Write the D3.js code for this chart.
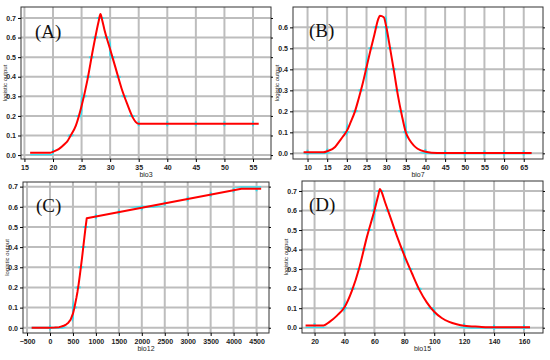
<!DOCTYPE html>
<html>
<head>
<meta charset="utf-8">
<script src="https://cdn.jsdelivr.net/npm/d3@7"></script>
<style>
  body { margin: 0; background: #fff; }
  svg { display: block; }
  .tick text { font-family: "Liberation Sans", Arial, sans-serif; font-size: 7px; font-weight: bold; fill: #222; }
</style>
</head>
<body>
<script>
// bio3 response (A)
var bio3X = [16, 19.5, 20, 21, 22, 22.5, 23, 24, 25, 26, 27, 28, 28.3, 28.6, 29, 30, 31, 32, 33, 34, 34.5, 35, 56];
var bio3Y = [0.012, 0.012, 0.017, 0.03, 0.055, 0.07, 0.095, 0.15, 0.25, 0.38, 0.54, 0.685, 0.72, 0.69, 0.64, 0.54, 0.44, 0.34, 0.26, 0.19, 0.168, 0.16, 0.16];
var bio3XTicks = [15, 20, 25, 30, 35, 40, 45, 50, 55];
var bio3YTicks = [0, 0.1, 0.2, 0.3, 0.4, 0.5, 0.6, 0.7];

// bio7 response (B)
var bio7X = [9, 14, 15, 17, 18, 19, 20, 21, 22, 23, 24, 25, 26, 27, 28, 28.4, 29.4, 30, 31, 32, 33, 34, 35, 36, 37, 38, 40, 43, 67];
var bio7Y = [0.005, 0.005, 0.01, 0.03, 0.055, 0.08, 0.107, 0.15, 0.196, 0.26, 0.33, 0.41, 0.49, 0.565, 0.64, 0.655, 0.648, 0.605, 0.5, 0.39, 0.275, 0.18, 0.1, 0.062, 0.038, 0.022, 0.008, 0.002, 0.001];
var bio7XTicks = [10, 15, 20, 25, 30, 35, 40, 45, 50, 55, 60, 65];
var bio7YTicks = [0, 0.1, 0.2, 0.3, 0.4, 0.5, 0.6];

// bio12 response (C)
var bio12X = [-400, 0, 100, 200, 250, 300, 350, 400, 450, 500, 525, 550, 575, 600, 625, 650, 675, 700, 725, 750, 775, 800, 4170, 4600];
var bio12Y = [0, 0, 0.001, 0.003, 0.006, 0.01, 0.016, 0.025, 0.04, 0.07, 0.093, 0.12, 0.148, 0.18, 0.218, 0.26, 0.305, 0.35, 0.4, 0.45, 0.498, 0.543, 0.69, 0.69];
var bio12XTicks = [-500, 0, 500, 1000, 1500, 2000, 2500, 3000, 3500, 4000, 4500];
var bio12YTicks = [0, 0.1, 0.2, 0.3, 0.4, 0.5, 0.6, 0.7];

// bio15 response (D)
var bio15X = [14, 26, 30, 35, 40, 45, 50, 55, 60, 62.5, 63.7, 64.8, 67, 70, 75, 80, 85, 90, 95, 100, 105, 110, 115, 120, 130, 140, 164];
var bio15Y = [0.012, 0.012, 0.03, 0.062, 0.105, 0.19, 0.31, 0.465, 0.6, 0.675, 0.71, 0.695, 0.645, 0.58, 0.47, 0.37, 0.28, 0.195, 0.13, 0.082, 0.05, 0.03, 0.018, 0.01, 0.005, 0.002, 0.002];
var bio15XTicks = [20, 40, 60, 80, 100, 120, 140, 160];
var bio15YTicks = [0, 0.1, 0.2, 0.3, 0.4, 0.5, 0.6, 0.7];

var svg = d3.select("body").append("svg")
    .attr("width", 550)
    .attr("height", 360);

var panels = [
  {id: "a", tag: "(A)", title: "bio3", xs: bio3X, ys: bio3Y, xt: bio3XTicks, yt: bio3YTicks,
   box: [21, 7, 271, 159], xdom: [14.4, 58.15], ydom: [-0.02, 0.756], tagPos: [35, 38], curve: d3.curveMonotoneX},
  {id: "b", tag: "(B)", title: "bio7", xs: bio7X, ys: bio7Y, xt: bio7XTicks, yt: bio7YTicks,
   box: [293, 7, 543, 159], xdom: [6.3, 69.9], ydom: [-0.027, 0.697], tagPos: [309, 37], curve: d3.curveMonotoneX},
  {id: "c", tag: "(C)", title: "bio12", xs: bio12X, ys: bio12Y, xt: bio12XTicks, yt: bio12YTicks,
   box: [23, 182, 269, 333], xdom: [-588, 4771], ydom: [-0.026, 0.723], tagPos: [36, 212], curve: d3.curveLinear},
  {id: "d", tag: "(D)", title: "bio15", xs: bio15X, ys: bio15Y, xt: bio15XTicks, yt: bio15YTicks,
   box: [302, 181, 543, 333], xdom: [11.6, 172.7], ydom: [-0.027, 0.751], tagPos: [309, 211], curve: d3.curveMonotoneX}
];

var defs = svg.append("defs");

panels.forEach(function(p) {
  var x0 = p.box[0], y0 = p.box[1], x1 = p.box[2], y1 = p.box[3];
  var x = d3.scaleLinear().domain(p.xdom).range([x0, x1]);
  var y = d3.scaleLinear().domain(p.ydom).range([y1, y0]);
  var pts = p.xs.map(function(v, i) { return [v, p.ys[i]]; });

  var g = svg.append("g").attr("class", "panel-" + p.id);

  // grid
  var grid = g.append("g").attr("class", "grid");
  grid.selectAll(".vg").data(p.xt).enter().append("line")
      .attr("x1", d => x(d)).attr("x2", d => x(d))
      .attr("y1", y0).attr("y2", y1)
      .attr("stroke", "#bdbdbd").attr("stroke-width", 2);
  grid.selectAll(".hg").data(p.yt).enter().append("line")
      .attr("x1", x0).attr("x2", x1)
      .attr("y1", d => y(d)).attr("y2", d => y(d))
      .attr("stroke", "#bdbdbd").attr("stroke-width", 2);

  // mask of grid lines, to tint where the curve crosses them
  var mask = defs.append("mask").attr("id", "m-" + p.id);
  mask.selectAll(".mv").data(p.xt).enter().append("line")
      .attr("x1", d => x(d)).attr("x2", d => x(d))
      .attr("y1", y0).attr("y2", y1)
      .attr("stroke", "#fff").attr("stroke-width", 2);
  mask.selectAll(".mh").data(p.yt).enter().append("line")
      .attr("x1", x0).attr("x2", x1)
      .attr("y1", d => y(d)).attr("y2", d => y(d))
      .attr("stroke", "#fff").attr("stroke-width", 2);

  var line = d3.line().x(d => x(d[0])).y(d => y(d[1])).curve(p.curve);

  g.append("path").datum(pts)
      .attr("d", line)
      .attr("fill", "none")
      .attr("stroke", "#33e0f0")
      .attr("stroke-width", 5)
      .attr("mask", "url(#m-" + p.id + ")");

  g.append("path").datum(pts)
      .attr("d", line)
      .attr("fill", "none")
      .attr("stroke", "#ff0000")
      .attr("stroke-width", 2)
      .attr("stroke-linejoin", "round");

  // frame
  g.append("rect")
      .attr("x", x0).attr("y", y0)
      .attr("width", x1 - x0).attr("height", y1 - y0)
      .attr("fill", "none").attr("stroke", "#333").attr("stroke-width", 1);

  // axes
  g.append("g")
      .attr("transform", "translate(0," + y1 + ")")
      .call(d3.axisBottom(x).tickValues(p.xt).tickSize(3).tickPadding(3).tickFormat(d3.format("d")))
      .call(a => a.select(".domain").remove());
  g.append("g")
      .attr("transform", "translate(" + x0 + ",0)")
      .call(d3.axisLeft(y).tickValues(p.yt).tickSize(3).tickPadding(2).tickFormat(d3.format(".1f")))
      .call(a => a.select(".domain").remove());
  g.append("g")
      .attr("transform", "translate(" + x1 + ",0)")
      .call(d3.axisRight(y).tickValues(p.yt).tickSize(2).tickFormat(""))
      .call(a => a.select(".domain").remove());

  g.append("text")
      .attr("x", (x0 + x1) / 2)
      .attr("y", y1 + 18)
      .attr("text-anchor", "middle")
      .style("font-family", "Liberation Sans, Arial, sans-serif")
      .style("font-size", "7px")
      .style("fill", "#222")
      .text(p.title);

  g.append("text")
      .attr("transform", "translate(" + (x0 - 14) + "," + ((y0 + y1) / 2) + ") rotate(-90)")
      .attr("text-anchor", "middle")
      .style("font-family", "Liberation Sans, Arial, sans-serif")
      .style("font-size", "6px")
      .style("fill", "#222")
      .text("logistic output");

  g.append("text")
      .attr("x", p.tagPos[0]).attr("y", p.tagPos[1])
      .style("font-family", "Liberation Serif, Times New Roman, serif")
      .style("font-size", "19px")
      .style("fill", "#111")
      .text(p.tag);
});
</script>
</body>
</html>
